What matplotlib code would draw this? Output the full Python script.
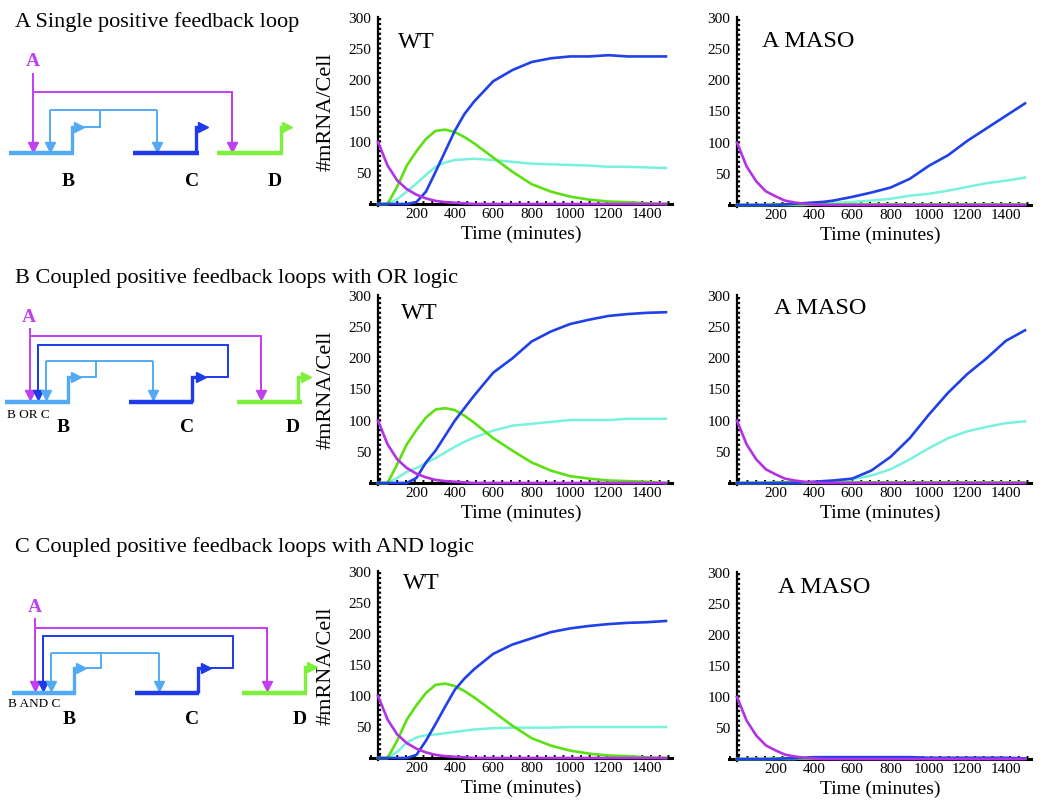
import matplotlib
matplotlib.use("Agg")
import matplotlib.pyplot as plt

plt.rcParams["font.family"] = ["Liberation Serif", "DejaVu Serif"]

# time points (minutes)
t = [0, 50, 100, 150, 200, 250, 300, 350, 400, 450, 500, 600, 700, 800, 900, 1000, 1100, 1200, 1300, 1400, 1500]

# A: single positive feedback loop
a_wt_blue = [0, 0, 0, 0, 3, 20, 52, 85, 118, 145, 165, 198, 216, 229, 235, 238, 238, 240, 238, 238, 238]
a_wt_cyan = [0, 0, 8, 20, 33, 47, 60, 67, 71, 72, 73, 71, 68, 65, 64, 63, 62, 60, 60, 59, 58]
a_wt_green = [0, 0, 28, 62, 85, 105, 118, 120, 116, 108, 98, 75, 52, 32, 20, 12, 7, 4, 3, 1, 0]
a_wt_purple = [100, 62, 38, 24, 15, 9, 5, 3, 2, 1, 0, 0, 0, 0, 0, 0, 0, 0, 0, 0, 0]
a_ko_blue = [0, 0, 0, 0, 0, 1, 2, 3, 4, 5, 7, 13, 20, 28, 42, 63, 80, 103, 123, 143, 163]
a_ko_cyan = [0, 0, 0, 0, 0, 0, 0, 0, 1, 2, 3, 5, 7, 10, 15, 18, 23, 29, 35, 39, 44]
a_ko_green = [0, 0, 0, 0, 1, 1, 1, 1, 1, 1, 1, 1, 1, 1, 1, 1, 1, 1, 1, 1, 1]
a_ko_purple = [100, 62, 38, 22, 14, 7, 4, 2, 1, 0, 0, 0, 0, 0, 0, 0, 0, 0, 0, 0, 0]

# B: coupled loops, OR logic
b_wt_blue = [0, 0, 0, 0, 8, 33, 52, 76, 100, 120, 140, 177, 200, 227, 243, 255, 262, 268, 271, 273, 274]
b_wt_cyan = [0, 0, 8, 18, 24, 32, 40, 49, 58, 66, 73, 84, 92, 95, 98, 101, 101, 101, 103, 103, 103]
b_wt_green = [0, 0, 30, 62, 85, 105, 118, 120, 117, 108, 97, 72, 52, 33, 20, 11, 7, 4, 3, 2, 0]
b_wt_purple = [100, 62, 38, 24, 15, 9, 5, 3, 2, 1, 0, 0, 0, 0, 0, 0, 0, 0, 0, 0, 0]
b_ko_blue = [0, 0, 0, 0, 0, 0, 0, 1, 2, 3, 4, 7, 20, 42, 72, 110, 145, 175, 200, 228, 245]
b_ko_cyan = [0, 0, 0, 0, 0, 0, 0, 0, 1, 2, 3, 6, 12, 22, 38, 56, 72, 83, 90, 96, 99]
b_ko_green = [0, 0, 0, 0, 1, 1, 1, 1, 1, 1, 1, 1, 1, 1, 1, 1, 1, 1, 1, 1, 1]
b_ko_purple = [100, 62, 38, 22, 14, 7, 4, 2, 1, 0, 0, 0, 0, 0, 0, 0, 0, 0, 0, 0, 0]

# C: coupled loops, AND logic
c_wt_blue = [0, 0, 0, 0, 5, 28, 55, 83, 110, 128, 143, 168, 183, 193, 203, 209, 213, 216, 218, 219, 221]
c_wt_cyan = [0, 0, 10, 25, 33, 37, 38, 40, 42, 44, 46, 48, 49, 49, 49, 50, 50, 50, 50, 50, 50]
c_wt_green = [0, 0, 28, 62, 85, 105, 118, 120, 116, 108, 98, 75, 52, 32, 20, 12, 7, 4, 3, 1, 0]
c_wt_purple = [100, 62, 38, 24, 15, 9, 5, 3, 2, 1, 0, 0, 0, 0, 0, 0, 0, 0, 0, 0, 0]
c_ko_blue = [0, 0, 0, 0, 0, 1, 1, 2, 3, 3, 3, 3, 3, 3, 3, 2, 2, 2, 2, 2, 1]
c_ko_cyan = [0, 0, 0, 0, 0, 0, 0, 1, 1, 1, 1, 1, 1, 1, 1, 1, 1, 1, 1, 1, 1]
c_ko_green = [0, 0, 0, 0, 1, 1, 1, 1, 1, 1, 1, 1, 1, 1, 1, 1, 1, 1, 1, 1, 1]
c_ko_purple = [100, 62, 38, 22, 14, 7, 4, 2, 1, 0, 0, 0, 0, 0, 0, 0, 0, 0, 0, 0, 0]

titles = ["A Single positive feedback loop",
          "B Coupled positive feedback loops with OR logic",
          "C Coupled positive feedback loops with AND logic"]

col_blue = "#2040e8"
col_cyan = "#78f2dc"
col_green = "#5ce014"
col_purple = "#b232e4"

cA = "#c03ff0"
cB = "#52aaf6"
cC = "#1f3ae8"
cD = "#7cf03a"

W, H = 1050, 802
fig = plt.figure(figsize=(10.5, 8.02), dpi=100)

# overlay in pixel coords for schematic diagrams and titles
ov = fig.add_axes([0, 0, 1, 1])
ov.set_xlim(0, W)
ov.set_ylim(H, 0)
ov.axis("off")


def data_axes(ox, oy, ytop):
    sx = 0.192
    sy = (oy - ytop) / 300.0
    x0, x1, y0, y1 = -40, 1530, -4, 302
    lp = ox + x0 * sx
    rp = ox + x1 * sx
    bp = oy - y0 * sy
    tp = oy - y1 * sy
    ax = fig.add_axes([lp / W, 1 - bp / H, (rp - lp) / W, (bp - tp) / H])
    ax.set_xlim(x0, x1)
    ax.set_ylim(y0, y1)
    ax.patch.set_alpha(0)
    for s in ["top", "right"]:
        ax.spines[s].set_visible(False)
    ax.spines["left"].set_position(("data", 0))
    ax.spines["bottom"].set_position(("data", 0))
    ax.spines["left"].set_linewidth(1.6)
    ax.spines["bottom"].set_linewidth(2.2)
    ax.set_xticks([200, 400, 600, 800, 1000, 1200, 1400])
    ax.set_yticks([50, 100, 150, 200, 250, 300])
    ax.tick_params(length=0, labelsize=11)
    ax.tick_params(axis="y", pad=5)
    ax.tick_params(axis="x", pad=3)
    ax.axhline(2.5, color="k", lw=1.4, ls=(0, (1, 3.5)), zorder=1)
    ax.axvline(8, color="k", lw=1.6, ls=(0, (1, 1.2)), zorder=1)
    ax.set_xlabel("Time (minutes)", fontsize=14, labelpad=3)
    return ax


def draw_curves(ax, blue, cyan, green, purple):
    ax.plot(t, cyan, color=col_cyan, lw=1.8, zorder=3)
    ax.plot(t, blue, color=col_blue, lw=1.9, zorder=4)
    ax.plot(t, green, color=col_green, lw=1.9, zorder=3)
    ax.plot(t, purple, color=col_purple, lw=1.9, zorder=5)


panels = [
    (378, 204, 18, 737, 205, 18,
     (a_wt_blue, a_wt_cyan, a_wt_green, a_wt_purple),
     (a_ko_blue, a_ko_cyan, a_ko_green, a_ko_purple),
     (104, 260), (130, 262)),
    (378, 483, 296, 737, 483, 296,
     (b_wt_blue, b_wt_cyan, b_wt_green, b_wt_purple),
     (b_ko_blue, b_ko_cyan, b_ko_green, b_ko_purple),
     (122, 272), (195, 280)),
    (378, 758, 572, 737, 759, 573,
     (c_wt_blue, c_wt_cyan, c_wt_green, c_wt_purple),
     (c_ko_blue, c_ko_cyan, c_ko_green, c_ko_purple),
     (132, 282), (212, 276)),
]

for mx, my, mt, rx, ry, rt, wt, ko, wpos, kpos in panels:
    axm = data_axes(mx, my, mt)
    draw_curves(axm, *wt)
    axm.set_ylabel("#mRNA/Cell", fontsize=16, labelpad=9)
    axm.text(wpos[0], wpos[1], "WT", fontsize=17, va="center", ha="left")
    axr = data_axes(rx, ry, rt)
    draw_curves(axr, *ko)
    axr.text(kpos[0], kpos[1], "A MASO", fontsize=17.5, va="center", ha="left")

# panel titles
for ty, txt in zip([22, 278, 547], titles):
    ov.text(15, ty, txt, fontsize=16, va="center", ha="left")


# ---- schematic helpers (pixel coords) ----
def seg(xs, ys, c, lw=1.4):
    ov.plot(xs, ys, color=c, lw=lw, solid_capstyle="butt", solid_joinstyle="miter")


def down(x, y0, y1, c):
    seg([x, x], [y0, y1 - 6], c)
    ov.plot([x], [y1 - 5], marker="v", color=c, ms=6.5, mec=c)


def bar(x0, x1, y, c):
    ov.plot([x0, x1], [y, y], color=c, lw=3.2, solid_capstyle="butt")


def promoter(x, ybar, ytop, xend, c):
    ov.plot([x, x, xend - 6], [ybar, ytop, ytop], color=c, lw=2.4,
            solid_capstyle="butt", solid_joinstyle="miter")
    ov.plot([xend - 4], [ytop], marker=">", color=c, ms=7, mec=c)


def label(x, y, s, c="k", size=14):
    ov.text(x, y, s, color=c, fontsize=size, fontweight="bold", ha="center", va="center")


# diagram A
label(33, 62, "A", cA)
down(33, 73, 152, cA)
seg([33, 232, 232], [92, 92, 140], cA)
down(232, 92, 152, cA)
seg([83, 100, 100], [127, 127, 110], cB)
seg([50, 157], [110, 110], cB)
down(50, 110, 152, cB)
down(157, 110, 152, cB)
bar(9, 74, 153, cB)
bar(133, 199, 153, cC)
bar(217, 283, 153, cD)
promoter(72, 153, 127, 83, cB)
promoter(196, 153, 127, 207, cC)
promoter(281, 153, 127, 291, cD)
label(68, 182, "B")
label(192, 182, "C")
label(275, 182, "D")

# diagram B
label(29, 317, "A", cA)
down(30, 328, 400, cA)
seg([30, 261, 261], [336, 336, 390], cA)
down(261, 336, 400, cA)
seg([206, 228, 228, 38, 38], [377, 377, 345, 345, 390], cC)
down(38, 345, 400, cC)
seg([78, 96, 96], [377, 377, 361], cB)
seg([46, 153], [361, 361], cB)
down(46, 361, 400, cB)
down(153, 361, 400, cB)
bar(5, 70, 402, cB)
bar(129, 193, 402, cC)
bar(237, 302, 402, cD)
promoter(68, 402, 377, 80, cB)
promoter(192, 402, 377, 205, cC)
promoter(298, 402, 377, 310, cD)
ov.text(7, 415, "B OR C", fontsize=9.5, ha="left", va="center")
label(63, 428, "B")
label(187, 428, "C")
label(293, 428, "D")

# diagram C
label(35, 608, "A", cA)
down(35, 618, 691, cA)
seg([35, 267, 267], [628, 628, 680], cA)
down(267, 628, 691, cA)
seg([210, 233, 233, 43, 43], [668, 668, 636, 636, 680], cC)
down(43, 636, 691, cC)
seg([83, 101, 101], [668, 668, 653], cB)
seg([51, 159], [653, 653], cB)
down(51, 653, 691, cB)
down(159, 653, 691, cB)
bar(12, 76, 693, cB)
bar(135, 199, 693, cC)
bar(242, 307, 693, cD)
promoter(74, 693, 668, 85, cB)
promoter(198, 693, 668, 210, cC)
promoter(305, 693, 667, 316, cD)
ov.text(8, 704, "B AND C", fontsize=9.5, ha="left", va="center")
label(69, 720, "B")
label(192, 720, "C")
label(300, 720, "D")

fig.savefig("out.png", dpi=100)
